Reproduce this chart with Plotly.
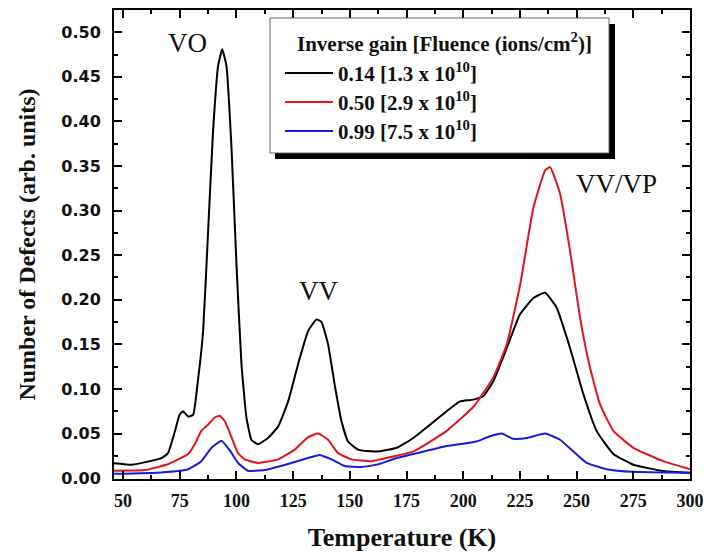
import plotly.graph_objects as go

# Temperature (K) and defect values
t_black = [44.9, 50, 53.7, 62.5, 66.9, 69.8, 72.8, 75, 76.5, 78.7, 80.9, 83, 85.3, 87.5, 89.7, 91.9, 93.7,
           95.6, 97.8, 100, 102.2, 104.4, 106.6, 109.5, 113.9, 118.4, 122.8, 127.2, 131.6, 135.3, 137.5,
           140.4, 143.3, 146.3, 149.2, 153.6, 159.5, 163.3, 170.7, 178, 185.4, 192.7, 198.6, 204.5, 208.9,
           213.3, 219.2, 225.1, 231, 236.1, 241.2, 247.1, 253, 258.8, 266.2, 275, 288.2, 300]
v_black = [0.017, 0.0157, 0.015, 0.0193, 0.0223, 0.028, 0.052, 0.0716, 0.075, 0.069, 0.071, 0.109, 0.165,
           0.277, 0.390, 0.462, 0.481, 0.462, 0.371, 0.240, 0.128, 0.068, 0.043, 0.038, 0.045, 0.058, 0.086,
           0.128, 0.165, 0.178, 0.175, 0.150, 0.105, 0.064, 0.041, 0.032, 0.030, 0.030, 0.034, 0.045, 0.060,
           0.075, 0.086, 0.088, 0.092, 0.109, 0.146, 0.184, 0.202, 0.208, 0.191, 0.146, 0.094, 0.053, 0.027,
           0.015, 0.008, 0.006]

t_red = [44.9, 59.6, 69.8, 74.3, 78.7, 81.6, 84.5, 87.5, 90.4, 92.6, 94.8, 97.8, 100.7, 103.7, 109.5, 118.4,
         125.7, 131.6, 136, 140.4, 144.8, 150.7, 159.5, 163.3, 178, 192.7, 204.5, 213.3, 219.2, 225.1, 231,
         236.1, 238.3, 242.7, 247.1, 251.5, 255.9, 260.3, 266.2, 275, 288.2, 300]
v_red = [0.0083, 0.009, 0.0155, 0.021, 0.027, 0.038, 0.053, 0.060, 0.068, 0.070, 0.064, 0.046, 0.028, 0.021,
         0.017, 0.021, 0.032, 0.046, 0.050, 0.043, 0.028, 0.021, 0.019, 0.021, 0.030, 0.053, 0.080, 0.113,
         0.150, 0.217, 0.304, 0.345, 0.349, 0.319, 0.255, 0.180, 0.124, 0.083, 0.053, 0.034, 0.019, 0.010]

t_blue = [44.9, 66.9, 78.7, 84.5, 89, 93.4, 97.1, 100.7, 105.1, 112.5, 124.2, 133, 136.7, 141.9, 147.8, 155.1,
          162.4, 170, 178, 192.7, 205.9, 211.8, 217, 222.1, 228, 236.1, 242.7, 248.5, 254.4, 263.2, 275, 300]
v_blue = [0.0047, 0.0064, 0.010, 0.019, 0.034, 0.042, 0.031, 0.017, 0.0083, 0.009, 0.017, 0.0236, 0.026, 0.021,
          0.0135, 0.0124, 0.0154, 0.022, 0.027, 0.036, 0.041, 0.047, 0.050, 0.044, 0.045, 0.050, 0.043, 0.030,
          0.017, 0.010, 0.007, 0.006]

legend_title = "Inverse gain [Fluence (ions/cm<sup>2</sup>)]"
series_names = ["0.14 [1.3 x 10<sup>10</sup>]", "0.50 [2.9 x 10<sup>10</sup>]", "0.99 [7.5 x 10<sup>10</sup>]"]
series_colors = ["#000000", "#e0141e", "#1a1adc"]
peak_labels = ["VO", "VV", "VV/VP"]
peak_x = [78.3, 136, 267.6]
peak_y = [0.488, 0.21, 0.330]

times = "Liberation Serif"
TXT = "#111111"

fig = go.Figure()
for t, v, name, col in zip([t_black, t_red, t_blue], [v_black, v_red, v_blue], series_names, series_colors):
    fig.add_trace(go.Scatter(x=t, y=v, mode="lines", name=name, showlegend=False,
                             line=dict(color=col, width=2, shape="spline", smoothing=0.4)))

for lab, x, y in zip(peak_labels, peak_x, peak_y):
    fig.add_annotation(x=x, y=y, text=lab, showarrow=False,
                       font=dict(family=times, size=27, color=TXT))

# --- framed legend with drop shadow (paper coordinates of the plot area) ---
def px_x(p):
    return (p - 114) / 576.0

def px_y(p):
    return (479 - p) / 469.0

fig.add_shape(type="rect", xref="paper", yref="paper", layer="above",
              x0=px_x(275), x1=px_x(615), y0=px_y(159), y1=px_y(24),
              fillcolor="#000000", line=dict(width=0))
fig.add_shape(type="rect", xref="paper", yref="paper", layer="above",
              x0=px_x(270), x1=px_x(609), y0=px_y(153), y1=px_y(18),
              fillcolor="white", line=dict(color="#666666", width=1))
fig.add_annotation(xref="paper", yref="paper", x=px_x(444), y=px_y(42), text=legend_title,
                   showarrow=False, xanchor="center", yanchor="middle",
                   font=dict(family=times, size=21, color=TXT, weight="bold"))
entry_py = [73, 102, 131]
for name, col, py in zip(series_names, series_colors, entry_py):
    fig.add_shape(type="line", xref="paper", yref="paper", layer="above",
                  x0=px_x(285), x1=px_x(333), y0=px_y(py), y1=px_y(py),
                  line=dict(color=col, width=2))
    fig.add_annotation(xref="paper", yref="paper", x=px_x(336), y=px_y(py - 1), text=name,
                       showarrow=False, xanchor="left", yanchor="middle",
                       font=dict(family=times, size=21, color=TXT, weight="bold"))

fig.update_layout(
    width=708, height=552,
    margin=dict(l=114, r=18, t=10, b=73),
    paper_bgcolor="white", plot_bgcolor="white",
    showlegend=False,
    xaxis=dict(
        range=[46, 300], tickmode="linear", tick0=50, dtick=25, automargin=False,
        ticks="inside", ticklen=8, tickwidth=1.5, tickcolor="#000",
        minor=dict(ticks="inside", ticklen=4, dtick=12.5, tick0=50, tickcolor="#000", tickwidth=1.5),
        showline=True, linecolor="#000", linewidth=2, mirror="allticks",
        showgrid=False, zeroline=False, ticklabelstandoff=4,
        tickfont=dict(family=times, size=18, color=TXT, weight="bold"),
        title=dict(text="Temperature (K)", font=dict(family=times, size=26, color=TXT, weight="bold"),
                   standoff=20),
    ),
    yaxis=dict(
        range=[-0.001, 0.525], tickmode="linear", tick0=0, dtick=0.05, tickformat=".2f", automargin=False,
        ticks="inside", ticklen=8, tickwidth=1.5, tickcolor="#000",
        minor=dict(ticks="inside", ticklen=4, dtick=0.025, tick0=0, tickcolor="#000", tickwidth=1.5),
        showline=True, linecolor="#000", linewidth=2, mirror="allticks",
        showgrid=False, zeroline=False, ticklabelstandoff=8,
        tickfont=dict(family="DejaVu Sans", size=16, color=TXT, weight="bold"),
        title=dict(text="Number of Defects (arb. units)",
                   font=dict(family=times, size=24, color=TXT, weight="bold"), standoff=19),
    ),
)

fig.write_html("out.html")
